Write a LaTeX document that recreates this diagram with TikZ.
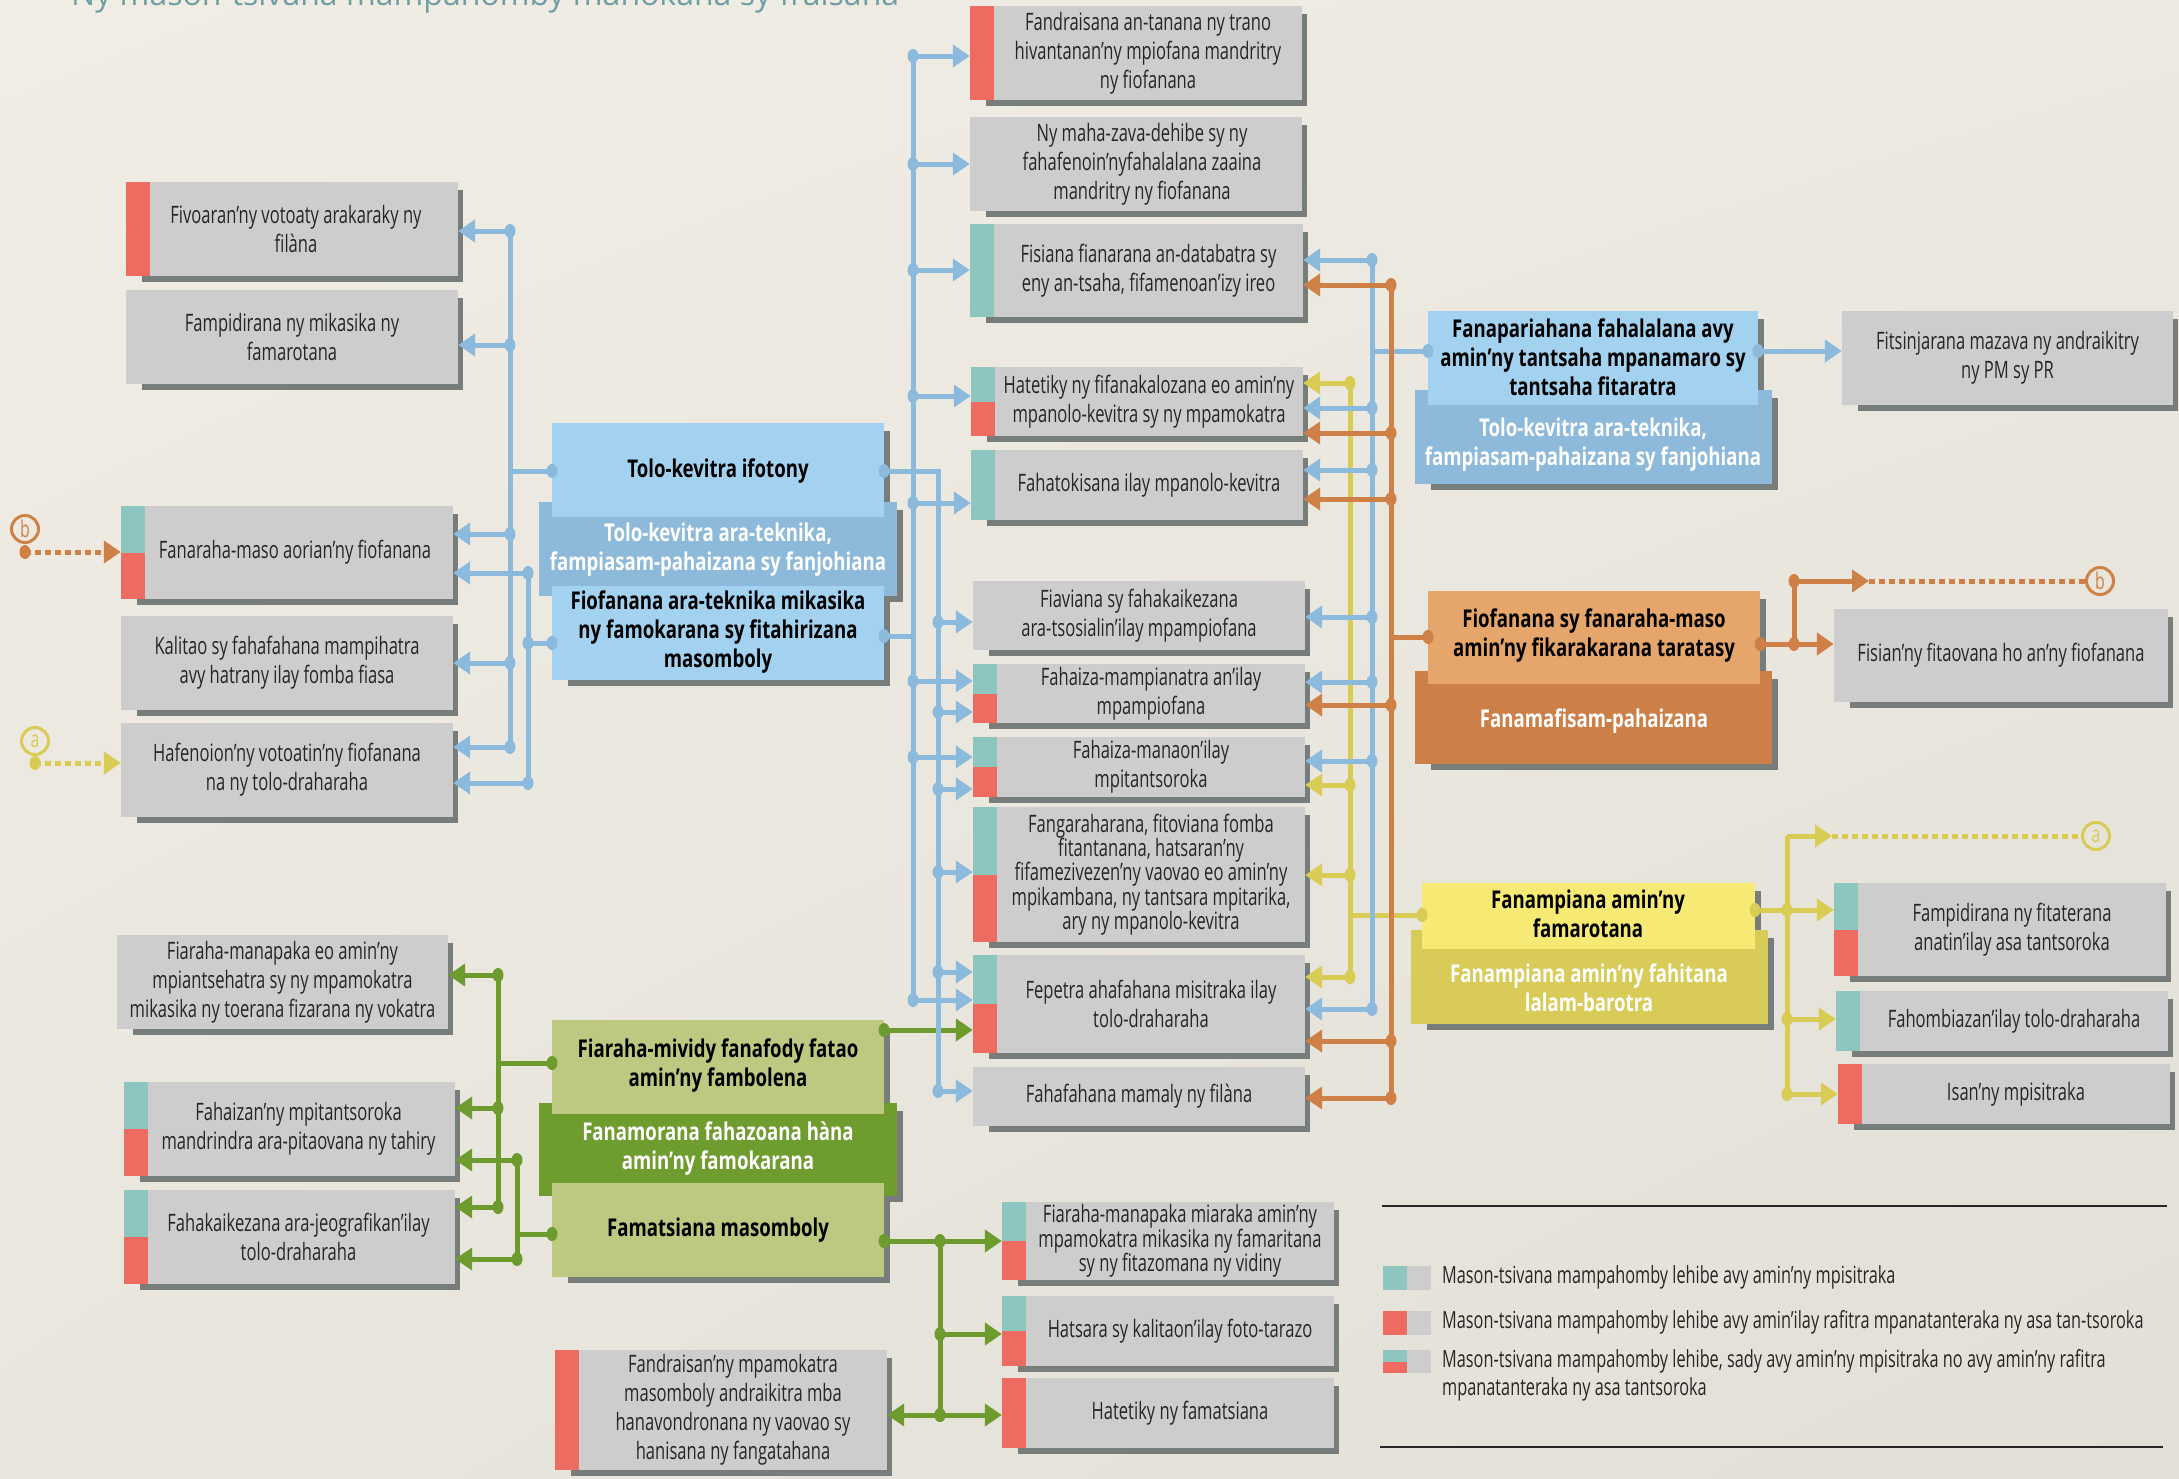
\documentclass[tikz,border=0pt]{standalone}
\usepackage{fontspec}
\setmainfont[FakeStretch=0.69, BoldFeatures={FakeStretch=0.76}]{Open Sans}
\newfontfamily\titlefont{Open Sans}
\usetikzlibrary{arrows.meta,fit,calc,shadings}
\definecolor{bgA}{RGB}{241,237,229}
\definecolor{bgB}{RGB}{236,233,225}
\definecolor{bgC}{RGB}{233,230,222}
\definecolor{bgD}{RGB}{226,223,215}
\definecolor{boxg}{RGB}{205,205,205}
\definecolor{shadc}{RGB}{119,125,122}
\definecolor{redc}{RGB}{238,107,98}
\definecolor{tealc}{RGB}{140,198,190}
\definecolor{txtc}{RGB}{38,38,38}
\definecolor{lblue}{RGB}{162,210,240}
\definecolor{dblue}{RGB}{141,185,218}
\definecolor{cblue}{RGB}{140,186,221}
\definecolor{lorange}{RGB}{229,165,107}
\definecolor{dorange}{RGB}{205,127,72}
\definecolor{corange}{RGB}{207,128,70}
\definecolor{lyellow}{RGB}{246,234,116}
\definecolor{dyellow}{RGB}{216,203,88}
\definecolor{cyellow}{RGB}{216,204,85}
\definecolor{lgreen}{RGB}{189,200,128}
\definecolor{dgreen}{RGB}{111,156,46}
\definecolor{cgreen}{RGB}{110,155,45}
\definecolor{titlec}{RGB}{111,159,163}
\newcommand{\gbox}[8][]{%
  \fill[shadc] ({#3+16},{#4+8}) rectangle ({#5+5},{#6+6});
  \node[gb, fit={(#3,#4) (#5,#6)}] (#2) {};
  \node[bt,#1] (#2-t) at ({(#3+#5)/2+#7},{(#4+#6)/2}) {#8};}
\newcommand{\sR}[1]{\fill[redc] (#1.north west) rectangle ([xshift=24pt]#1.south west);}
\newcommand{\sT}[1]{\fill[tealc] (#1.north west) rectangle ([xshift=24pt]#1.south west);}
\newcommand{\sTR}[1]{\fill[tealc] (#1.north west) rectangle ([xshift=24pt]#1.west);\fill[redc] (#1.west) rectangle ([xshift=24pt]#1.south west);}
\newcommand{\dotc}[2]{\fill[#1] (#2) ellipse [x radius=5.5pt, y radius=7pt];}
\newcommand{\jL}[5]{\coordinate (#2) at (#3,#4);\draw[#1,ln,ar] (#2) -- (#2 -| #5.east);\dotc{#1}{#2}}
\newcommand{\jR}[5]{\coordinate (#2) at (#3,#4);\draw[#1,ln,ar] (#2) -- (#2 -| #5.west);\dotc{#1}{#2}}
\begin{document}
\begin{tikzpicture}[x=1pt,y=-1pt,
  gb/.style={fill=boxg, inner sep=0pt, draw=none},
  bt/.style={font=\fontsize{24}{29}\selectfont, align=center, text=txtc, inner sep=0pt},
  tight/.style={font=\fontsize{24}{24.3}\selectfont},
  ht/.style={font=\bfseries\fontsize{24.5}{29}\selectfont, align=center, text=black, inner sep=0pt},
  wt/.style={ht, text=white},
  pc/.style={inner sep=0pt, draw=none},
  ln/.style={line width=5pt},
  dotl/.style={line width=5pt, dash pattern=on 6pt off 4pt},
  ar/.style={-{Triangle[length=17pt,width=22pt]}},
  circ/.style={circle, line width=3pt, minimum size=27pt, inner sep=0pt, font=\fontsize{23}{23}\selectfont},
  lgt/.style={font=\fontsize{23.6}{28}\selectfont, text=txtc, align=left, inner sep=0pt, anchor=west}]
\useasboundingbox (0,0) rectangle (2179,1478);
\shade[upper left=bgA, upper right=bgB, lower left=bgC, lower right=bgD] (0,0) rectangle (2179,1478);
\node[anchor=base west, font=\titlefont\fontsize{32}{32}\selectfont, text=titlec, inner sep=0pt] (title) at (71,5) {Ny mason-tsivana mampahomby manokana sy fraisana};

% ---------- plain boxes ----------
\gbox{L1}{126}{182}{458}{276}{4}{Fivoaran'ny votoaty arakaraky ny\\filàna}\sR{L1}
\gbox{L2}{126}{290}{458}{384}{0}{Fampidirana ny mikasika ny\\famarotana}
\gbox{L3}{121}{506}{453}{599}{8}{Fanaraha-maso aorian'ny fiofanana}\sTR{L3}
\gbox{L4}{121}{616}{453}{710}{0}{Kalitao sy fahafahana mampihatra\\avy hatrany ilay fomba fiasa}
\gbox{L5}{121}{723}{453}{817}{0}{Hafenoion'ny votoatin'ny fiofanana\\na ny tolo-draharaha}
\gbox{GL1}{117}{935}{448}{1029}{0}{Fiaraha-manapaka eo amin'ny\\mpiantsehatra sy ny mpamokatra\\mikasika ny toerana fizarana ny vokatra}
\gbox{GL2}{124}{1082}{455}{1176}{9}{Fahaizan'ny mpitantsoroka\\mandrindra ara-pitaovana ny tahiry}\sTR{GL2}
\gbox{GL3}{124}{1190}{455}{1284}{9}{Fahakaikezana ara-jeografikan'ilay\\tolo-draharaha}\sTR{GL3}
\gbox{FB}{555}{1350}{887}{1470}{12}{Fandraisan'ny mpamokatra\\masomboly andraikitra mba\\hanavondronana ny vaovao sy\\hanisana ny fangatahana}\sR{FB}

\gbox{M1}{970}{6}{1302}{100}{12}{Fandraisana an-tanana ny trano\\hivantanan'ny mpiofana mandritry\\ny fiofanana}\sR{M1}
\gbox{M2}{970}{117}{1302}{211}{6}{Ny maha-zava-dehibe sy ny\\fahafenoin'nyfahalalana zaaina\\mandritry ny fiofanana}
\gbox{M3}{970}{224}{1303}{317}{12}{Fisiana fianarana an-databatra sy\\eny an-tsaha, fifamenoan'izy ireo}\sT{M3}
\gbox{M4}{971}{367}{1303}{436}{12}{Hatetiky ny fifanakalozana eo amin'ny\\mpanolo-kevitra sy ny mpamokatra}\sTR{M4}
\gbox{M5}{971}{450}{1303}{520}{12}{Fahatokisana ilay mpanolo-kevitra}\sT{M5}
\gbox{M6}{973}{581}{1305}{650}{0}{Fiaviana sy fahakaikezana\\ara-tsosialin'ilay mpampiofana}
\gbox{M7}{973}{664}{1305}{723}{12}{Fahaiza-mampianatra an'ilay\\mpampiofana}\sTR{M7}
\gbox{M8}{973}{737}{1305}{797}{12}{Fahaiza-manaon'ilay\\mpitantsoroka}\sTR{M8}
\gbox[tight]{M9}{973}{807}{1305}{942}{12}{Fangaraharana, fitoviana fomba\\fitantanana, hatsaran'ny\\fifamezivezen'ny vaovao eo amin'ny\\mpikambana, ny tantsara mpitarika,\\ary ny mpanolo-kevitra}\sTR{M9}
\gbox{M10}{973}{955}{1305}{1053}{12}{Fepetra ahafahana misitraka ilay\\tolo-draharaha}\sTR{M10}
\gbox{M11}{973}{1067}{1305}{1126}{0}{Fahafahana mamaly ny filàna}
\gbox[tight]{G1}{1002}{1202}{1334}{1280}{12}{Fiaraha-manapaka miaraka amin'ny\\mpamokatra mikasika ny famaritana\\sy ny fitazomana ny vidiny}\sTR{G1}
\gbox{G2}{1002}{1296}{1334}{1366}{12}{Hatsara sy kalitaon'ilay foto-tarazo}\sTR{G2}
\gbox{G3}{1002}{1378}{1334}{1448}{12}{Hatetiky ny famatsiana}\sR{G3}

\gbox{RF}{1842}{311}{2173}{405}{0}{Fitsinjarana mazava ny andraikitry\\ny PM sy PR}
\gbox{RB}{1834}{609}{2168}{702}{0}{Fisian'ny fitaovana ho an'ny fiofanana}
\gbox{Y1}{1834}{883}{2166}{976}{12}{Fampidirana ny fitaterana\\anatin'ilay asa tantsoroka}\sTR{Y1}
\gbox{Y2}{1836}{991}{2168}{1051}{12}{Fahombiazan'ilay tolo-draharaha}\sT{Y2}
\gbox{Y3}{1838}{1064}{2170}{1124}{12}{Isan'ny mpisitraka}\sR{Y3}

% ---------- compound boxes ----------
% blue centre
\fill[shadc] (568,431) rectangle (890,523);
\fill[shadc] (555,510) rectangle (903,602);
\fill[shadc] (568,594) rectangle (890,686);
\node[pc, fill=dblue, fit={(539,502) (897,596)}] (tkb) {};
\node[pc, fill=lblue, fit={(552,423) (884,517)}] (tk) {};
\node[pc, fill=lblue, fit={(552,586) (884,680)}] (fo) {};
\node[ht] (tk-t) at (718,471) {Tolo-kevitra ifotony};
\node[wt] (tkb-t) at (718,550) {Tolo-kevitra ara-teknika,\\fampiasam-pahaizana sy fanjohiana};
\node[ht] (fo-t) at (718,632) {Fiofanana ara-teknika mikasika\\ny famokarana sy fitahirizana\\masomboly};
% green centre
\fill[shadc] (568,1028) rectangle (890,1120);
\fill[shadc] (555,1111) rectangle (903,1202);
\fill[shadc] (568,1191) rectangle (890,1283);
\node[pc, fill=dgreen, fit={(539,1103) (897,1196)}] (gfb) {};
\node[pc, fill=lgreen, fit={(552,1020) (884,1114)}] (gf) {};
\node[pc, fill=lgreen, fit={(552,1183) (884,1277)}] (fm) {};
\node[ht] (gf-t) at (718,1066) {Fiaraha-mividy fanafody fatao\\amin'ny fambolena};
\node[wt] (gfb-t) at (718,1149) {Fanamorana fahazoana hàna\\amin'ny famokarana};
\node[ht] (fm-t) at (718,1230) {Famatsiana masomboly};
% right blue
\fill[shadc] (1444,319) rectangle (1764,411);
\fill[shadc] (1431,398) rectangle (1778,490);
\node[pc, fill=dblue, fit={(1415,390) (1772,484)}] (fpb) {};
\node[pc, fill=lblue, fit={(1428,311) (1758,405)}] (fp) {};
\node[ht] (fp-t) at (1593,357) {Fanapariahana fahalalana avy\\amin'ny tantsaha mpanamaro sy\\tantsaha fitaratra};
\node[wt] (fpb-t) at (1593,445) {Tolo-kevitra ara-teknika,\\fampiasam-pahaizana sy fanjohiana};
% orange
\fill[shadc] (1444,599) rectangle (1766,690);
\fill[shadc] (1431,679) rectangle (1778,770);
\node[pc, fill=dorange, fit={(1415,671) (1772,764)}] (ffb) {};
\node[pc, fill=lorange, fit={(1428,591) (1760,684)}] (ff) {};
\node[ht] (ff-t) at (1594,636) {Fiofanana sy fanaraha-maso\\amin'ny fikarakarana taratasy};
\node[wt] (ffb-t) at (1594,721) {Fanamafisam-pahaizana};
% yellow
\fill[shadc] (1438,891) rectangle (1761,955);
\fill[shadc] (1427,938) rectangle (1774,1030);
\node[pc, fill=dyellow, fit={(1411,930) (1768,1024)}] (fyb) {};
\node[pc, fill=lyellow, fit={(1422,883) (1755,949)}] (fy) {};
\node[ht] (fy-t) at (1588,914) {Fanampiana amin'ny\\famarotana};
\node[wt] (fyb-t) at (1589,988) {Fanampiana amin'ny fahitana\\lalam-barotra};

% ---------- green connectors ----------
\coordinate (gv1t) at (498,975); \coordinate (gv1b) at (498,1207);
\coordinate (gv2t) at (517,1160); \coordinate (gv2b) at (517,1259);
\draw[cgreen,ln] (gv1t) -- (gv1b);
\draw[cgreen,ln] (gv2t) -- (gv2b);
\coordinate (gfw) at (552,1063); \draw[cgreen,ln] (gfw) -- (gfw -| gv1t); \dotc{cgreen}{gfw}
\coordinate (fmw) at (552,1234); \draw[cgreen,ln] (fmw) -- (fmw -| gv2t); \dotc{cgreen}{fmw}
\jL{cgreen}{g1}{498}{975}{GL1}
\jL{cgreen}{g2}{498}{1108}{GL2}
\jL{cgreen}{g3}{498}{1207}{GL3}
\jL{cgreen}{g4}{517}{1160}{GL2}
\jL{cgreen}{g5}{517}{1259}{GL3}
\coordinate (gfe) at (884,1030); \draw[cgreen,ln,ar] (gfe) -- (gfe -| M10.west); \dotc{cgreen}{gfe}
\coordinate (fme) at (884,1241); \coordinate (gj) at (940,1241); \coordinate (gjb) at (940,1415);
\draw[cgreen,ln] (fme) -- (gj) -- (gjb);
\draw[cgreen,ln,ar] (gj) -- (gj -| G1.west);
\jR{cgreen}{g6}{940}{1334}{G2}
\jR{cgreen}{g7}{940}{1415}{G3}
\draw[cgreen,ln,ar] (g7) -- (g7 -| FB.east);
\dotc{cgreen}{fme}\dotc{cgreen}{gj}\dotc{cgreen}{g7}

% ---------- blue left ----------
\coordinate (vl1t) at (510,231); \coordinate (vl1b) at (510,747);
\coordinate (vl2t) at (528,573); \coordinate (vl2b) at (528,783);
\draw[cblue,ln] (vl1t) -- (vl1b);
\draw[cblue,ln] (vl2t) -- (vl2b);
\coordinate (tkw) at (552,471); \draw[cblue,ln] (tkw) -- (tkw -| vl1t); \dotc{cblue}{tkw}
\coordinate (fow) at (552,643); \draw[cblue,ln] (fow) -- (fow -| vl2t); \dotc{cblue}{fow}\dotc{cblue}{fow -| vl2t}
\jL{cblue}{a1}{510}{231}{L1}
\jL{cblue}{a2}{510}{345}{L2}
\jL{cblue}{a3}{510}{534}{L3}
\jL{cblue}{a4}{510}{663}{L4}
\jL{cblue}{a5}{510}{747}{L5}
\jL{cblue}{a6}{528}{573}{L3}
\jL{cblue}{a7}{528}{783}{L5}

% ---------- blue middle ----------
\coordinate (vb1t) at (913,56); \coordinate (vb1b) at (913,1000);
\coordinate (vb2t) at (938,471); \coordinate (vb2b) at (938,1091);
\coordinate (tke) at (884,471); \coordinate (foe) at (884,636);
\draw[cblue,ln] (vb1t) -- (vb1b);
\draw[cblue,ln] (tke) -- (vb2t) -- (vb2b);
\draw[cblue,ln] (foe) -- (foe -| vb1t);
\dotc{cblue}{tke}\dotc{cblue}{foe}
\jR{cblue}{b1}{913}{56}{M1}
\jR{cblue}{b2}{913}{164}{M2}
\jR{cblue}{b3}{913}{270}{M3}
\jR{cblue}{b4}{913}{396}{M4}
\jR{cblue}{b5}{913}{503}{M5}
\jR{cblue}{b6}{913}{681}{M7}
\jR{cblue}{b7}{913}{757}{M8}
\jR{cblue}{b8}{913}{1000}{M10}
\jR{cblue}{c1}{938}{622}{M6}
\jR{cblue}{c2}{938}{712}{M7}
\jR{cblue}{c3}{938}{789}{M8}
\jR{cblue}{c4}{938}{872}{M9}
\jR{cblue}{c5}{938}{972}{M10}
\jR{cblue}{c6}{938}{1091}{M11}

% ---------- right of middle ----------
\coordinate (vyt) at (1350,383); \coordinate (vyb) at (1350,977);
\draw[cyellow,ln] (vyt) -- (vyb);
\coordinate (fyw) at (1422,915); \draw[cyellow,ln] (fyw) -- (fyw -| vyt); \dotc{cyellow}{fyw}
\jL{cyellow}{y1}{1350}{383}{M4}
\jL{cyellow}{y2}{1350}{785}{M8}
\jL{cyellow}{y3}{1350}{875}{M9}
\jL{cyellow}{y4}{1350}{977}{M10}

\coordinate (vrt) at (1372,260); \coordinate (vrb) at (1372,1009);
\draw[cblue,ln] (vrt) -- (vrb);
\coordinate (fpw) at (1428,351); \draw[cblue,ln] (fpw) -- (fpw -| vrt); \dotc{cblue}{fpw}
\jL{cblue}{r1}{1372}{260}{M3}
\jL{cblue}{r2}{1372}{408}{M4}
\jL{cblue}{r3}{1372}{470}{M5}
\jL{cblue}{r4}{1372}{617}{M6}
\jL{cblue}{r5}{1372}{682}{M7}
\jL{cblue}{r6}{1372}{761}{M8}
\jL{cblue}{r7}{1372}{1009}{M10}

\coordinate (vot) at (1391,285); \coordinate (vob) at (1391,1098);
\draw[corange,ln] (vot) -- (vob);
\coordinate (ffw) at (1428,637); \draw[corange,ln] (ffw) -- (ffw -| vot); \dotc{corange}{ffw}
\jL{corange}{o1}{1391}{285}{M3}
\jL{corange}{o2}{1391}{433}{M4}
\jL{corange}{o3}{1391}{499}{M5}
\jL{corange}{o4}{1391}{705}{M7}
\jL{corange}{o5}{1391}{1041}{M10}
\jL{corange}{o6}{1391}{1098}{M11}

% ---------- right column ----------
\coordinate (fpe) at (1758,351); \draw[cblue,ln,ar] (fpe) -- (fpe -| RF.west); \dotc{cblue}{fpe}

\node[circ, draw=corange, text=corange] (bR) at (2100,581) {b};
\coordinate (ffe) at (1760,644); \coordinate (oj) at (1794,644); \coordinate (ojt) at (1794,581); \coordinate (obe) at (1869,581);
\draw[corange,ln] (ffe) -- (oj) -- (ojt);
\draw[corange,ln,ar] (oj) -- (oj -| RB.west);
\draw[corange,ln,ar] (ojt) -- (obe);
\draw[corange,dotl] (obe) -- (bR.west);
\dotc{corange}{ffe}\dotc{corange}{oj}\dotc{corange}{ojt}

\node[circ, draw=cyellow, text=cyellow] (aR) at (2096,836) {a};
\coordinate (fye) at (1755,910); \coordinate (yj) at (1787,910); \coordinate (yjt) at (1787,836); \coordinate (yae) at (1832,836);
\coordinate (yjb) at (1787,1094);
\draw[cyellow,ln] (fye) -- (yj);
\draw[cyellow,ln] (yjt) -- (yjb);
\draw[cyellow,ln,ar] (yjt) -- (yae);
\draw[cyellow,dotl] (yae) -- (aR.west);
\draw[cyellow,ln,ar] (yj) -- (yj -| Y1.west);
\jR{cyellow}{y5}{1787}{1019}{Y2}
\jR{cyellow}{y6}{1787}{1094}{Y3}
\dotc{cyellow}{fye}\dotc{cyellow}{yj}

% ---------- left incoming ----------
\node[circ, draw=corange, text=corange] (bL) at (25,529) {b};
\coordinate (bLs) at (25,552);
\draw[corange,dotl,ar] (bLs) -- (bLs -| L3.west); \dotc{corange}{bLs}
\node[circ, draw=cyellow, text=cyellow] (aL) at (35,741) {a};
\coordinate (aLs) at (35,763);
\draw[cyellow,dotl,ar] (aLs) -- (aLs -| L5.west); \dotc{cyellow}{aLs}

% ---------- legend ----------
\coordinate (lt1) at (1382,1206); \coordinate (lt2) at (2167,1206);
\coordinate (lb1) at (1380,1447); \coordinate (lb2) at (2163,1447);
\draw[line width=1.6pt, black!85] (lt1) -- (lt2);
\draw[line width=1.6pt, black!85] (lb1) -- (lb2);
\fill[boxg] (1407,1266) rectangle (1431,1290); \fill[tealc] (1383,1266) rectangle (1407,1290);
\fill[boxg] (1407,1311) rectangle (1431,1335); \fill[redc] (1383,1311) rectangle (1407,1335);
\fill[boxg] (1407,1350) rectangle (1431,1373); \fill[tealc] (1383,1350) rectangle (1407,1362); \fill[redc] (1383,1362) rectangle (1407,1373);
\node[lgt] (lg1) at (1442,1277) {Mason-tsivana mampahomby lehibe avy amin'ny mpisitraka};
\node[lgt] (lg2) at (1442,1322) {Mason-tsivana mampahomby lehibe avy amin'ilay rafitra mpanatanteraka ny asa tan-tsoroka};
\node[lgt] (lg3) at (1442,1375) {Mason-tsivana mampahomby lehibe, sady avy amin'ny mpisitraka no avy amin'ny rafitra\\mpanatanteraka ny asa tantsoroka};
\end{tikzpicture}
\end{document}
